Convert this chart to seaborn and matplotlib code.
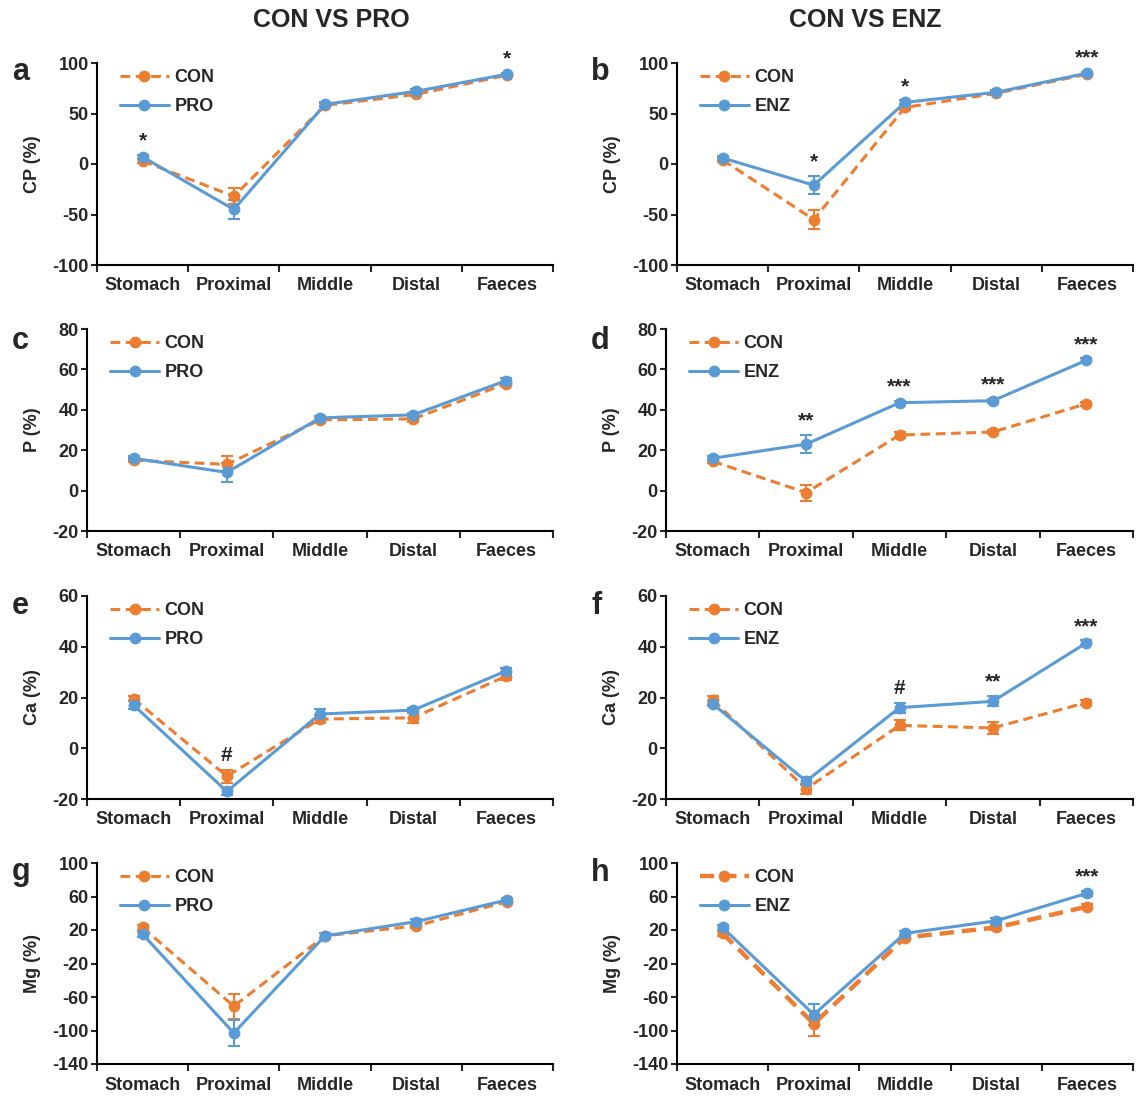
# plot.py - digestibility along the gut, CON vs PRO / CON vs ENZ

import numpy as np
import pandas as pd
import matplotlib
matplotlib.use("Agg")
import matplotlib.pyplot as plt
import seaborn as sns

# ---------------------------
# Data
# ---------------------------
segments = ["Stomach", "Proximal", "Middle", "Distal", "Faeces"]

# CP
cp_con_a = [3, -32, 58, 69, 88]
cp_con_a_se = [2, 8, 2, 2, 1]
cp_pro = [7, -45, 59, 72, 89]
cp_pro_se = [2, 9, 2, 2, 1]
sig_a = ["*", "", "", "", "*"]

cp_con_b = [4, -55, 56, 70, 89]
cp_con_b_se = [2, 9, 3, 2, 1]
cp_enz = [6, -21, 61, 71, 90]
cp_enz_se = [2, 9, 2, 2, 1]
sig_b = ["", "*", "*", "", "***"]

# P
p_con_c = [15, 13, 35, 35.5, 53]
p_con_c_se = [1, 4, 1.5, 1.5, 1]
p_pro = [16, 9, 36, 37.5, 54.5]
p_pro_se = [1, 4.5, 1, 1, 1]
sig_c = ["", "", "", "", ""]

p_con_d = [14.5, -1, 27.5, 29, 43]
p_con_d_se = [1, 4, 1.5, 1, 1]
p_enz = [16, 23, 43.5, 44.5, 64.5]
p_enz_se = [1, 4.5, 1, 1, 1]
sig_d = ["", "**", "***", "***", "***"]

# Ca
ca_con_e = [19.5, -11, 11.5, 12, 28.5]
ca_con_e_se = [1, 2.5, 1.5, 2, 1.5]
ca_pro = [17, -17, 13.5, 15, 30.5]
ca_pro_se = [1.5, 1.5, 2, 1, 1]
sig_e = ["", "#", "", "", ""]

ca_con_f = [19, -16, 9, 8, 18]
ca_con_f_se = [1.5, 2, 2, 2.5, 1]
ca_enz = [17.5, -13, 16, 18.5, 41.5]
ca_enz_se = [1, 1.5, 2, 2, 1]
sig_f = ["", "", "#", "**", "***"]

# Mg
mg_con_g = [23, -71, 13, 25, 54]
mg_con_g_se = [3, 15, 3, 3, 2]
mg_pro = [15, -103, 13, 30, 56]
mg_pro_se = [3, 15, 3, 3, 2]
sig_g = ["", "", "", "", ""]

mg_con_h = [16, -92, 11, 23, 48]
mg_con_h_se = [3, 15, 3, 3, 3]
mg_enz = [23, -81, 16, 31, 64]
mg_enz_se = [3, 13, 3, 3, 3]
sig_h = ["", "", "", "", "***"]

ORANGE = "#ED7D31"
BLUE = "#5B9BD5"

sns.set_style("ticks")
plt.rcParams["font.family"] = ["Liberation Sans", "DejaVu Sans"]
plt.rcParams["font.weight"] = "bold"

W, H = 1142, 1096
fig = plt.figure(figsize=(W / 100, H / 100), dpi=100)


def px_axes(left, top, right, bottom):
    return fig.add_axes([left / W, 1 - bottom / H, (right - left) / W, (bottom - top) / H])


def draw_panel(ax, con, con_se, trt, trt_se, trt_name, sig, ylabel, yticks, letter,
               letter_x, letter_y, con_lw=2.2):
    df = pd.DataFrame({"Segment": segments, "CON": con, trt_name: trt})

    # error bars under the lines
    ax.errorbar(segments, con, yerr=con_se, fmt="none", ecolor=ORANGE,
                elinewidth=1.5, capsize=4, capthick=1.5, zorder=1)
    ax.errorbar(segments, trt, yerr=trt_se, fmt="none", ecolor=BLUE,
                elinewidth=1.5, capsize=4, capthick=1.5, zorder=1)

    sns.lineplot(data=df, x="Segment", y="CON", ax=ax, color=ORANGE, marker="o",
                 markersize=8.5, markeredgewidth=0, linewidth=con_lw,
                 linestyle=(0, (3.2, 1.8)), label="CON", sort=False)
    sns.lineplot(data=df, x="Segment", y=trt_name, ax=ax, color=BLUE, marker="o",
                 markersize=8.5, markeredgewidth=0, linewidth=2.2,
                 label=trt_name, sort=False)

    # significance marks above the higher point
    for i, s in enumerate(sig):
        if s:
            top = max(con[i] + con_se[i], trt[i] + trt_se[i])
            ax.annotate(s, (i, top), xytext=(0, 10), textcoords="offset points",
                        ha="center", va="center", fontsize=15, fontweight="bold")

    ax.set_xlim(-0.5, 4.5)
    ax.set_xticks(range(len(segments)))
    ax.set_xticklabels(segments, fontsize=13, fontweight="bold")
    ax.set_xticks(np.arange(-0.5, len(segments), 1), minor=True)
    ax.tick_params(axis="x", which="major", length=0, pad=9)
    ax.tick_params(axis="x", which="minor", length=5, width=1.5, direction="out")

    ax.set_ylim(yticks[0], yticks[-1])
    ax.set_yticks(yticks)
    ax.set_yticklabels([str(t) for t in yticks], fontsize=13, fontweight="bold")
    ax.tick_params(axis="y", length=4, width=1.5, pad=2, direction="out")

    ax.set_xlabel("")
    ax.set_ylabel(ylabel, fontsize=13, fontweight="bold", labelpad=8)
    sns.despine(ax=ax)
    for sp in ["left", "bottom"]:
        ax.spines[sp].set_linewidth(1.5)
        ax.spines[sp].set_color("black")

    ax.legend(loc="upper left", bbox_to_anchor=(0.015, 1.05), frameon=False,
              handlelength=2.7, handletextpad=0.3, labelspacing=0.65,
              prop={"size": 13, "weight": "bold"})

    fig.text(letter_x / W, 1 - letter_y / H, letter, fontsize=22, fontweight="bold",
             ha="left", va="baseline")


cp_ticks = [-100, -50, 0, 50, 100]
p_ticks = [-20, 0, 20, 40, 60, 80]
ca_ticks = [-20, 0, 20, 40, 60]
mg_ticks = [-140, -100, -60, -20, 20, 60, 100]

ax_a = px_axes(97, 63, 553, 265)
ax_b = px_axes(677, 63, 1133, 265)
ax_c = px_axes(87, 329, 553, 531)
ax_d = px_axes(666, 329, 1133, 531)
ax_e = px_axes(87, 596, 553, 799)
ax_f = px_axes(666, 596, 1133, 799)
ax_g = px_axes(97, 863, 553, 1064)
ax_h = px_axes(677, 863, 1133, 1064)

draw_panel(ax_a, cp_con_a, cp_con_a_se, cp_pro, cp_pro_se, "PRO", sig_a, "CP (%)", cp_ticks, "a", 12, 80)
draw_panel(ax_b, cp_con_b, cp_con_b_se, cp_enz, cp_enz_se, "ENZ", sig_b, "CP (%)", cp_ticks, "b", 591, 80)
draw_panel(ax_c, p_con_c, p_con_c_se, p_pro, p_pro_se, "PRO", sig_c, "P (%)", p_ticks, "c", 12, 349)
draw_panel(ax_d, p_con_d, p_con_d_se, p_enz, p_enz_se, "ENZ", sig_d, "P (%)", p_ticks, "d", 591, 349)
draw_panel(ax_e, ca_con_e, ca_con_e_se, ca_pro, ca_pro_se, "PRO", sig_e, "Ca (%)", ca_ticks, "e", 12, 614)
draw_panel(ax_f, ca_con_f, ca_con_f_se, ca_enz, ca_enz_se, "ENZ", sig_f, "Ca (%)", ca_ticks, "f", 591, 614)
draw_panel(ax_g, mg_con_g, mg_con_g_se, mg_pro, mg_pro_se, "PRO", sig_g, "Mg (%)", mg_ticks, "g", 12, 880)
draw_panel(ax_h, mg_con_h, mg_con_h_se, mg_enz, mg_enz_se, "ENZ", sig_h, "Mg (%)", mg_ticks, "h", 591, 881,
           con_lw=3.2)

fig.text(331 / W, 1 - 20 / H, "CON VS PRO", fontsize=18, fontweight="bold", ha="center", va="center")
fig.text(865 / W, 1 - 20 / H, "CON VS ENZ", fontsize=18, fontweight="bold", ha="center", va="center")

fig.savefig("out.png", dpi=100)
plt.close(fig)
